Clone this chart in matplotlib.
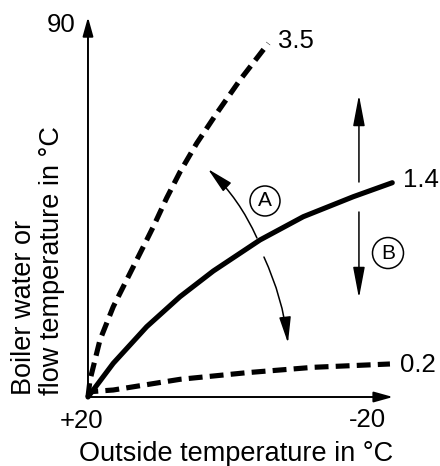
import numpy as np
import matplotlib
matplotlib.use("Agg")
import matplotlib.pyplot as plt
from matplotlib.patches import Ellipse

plt.rcParams["font.family"] = ["Liberation Sans", "DejaVu Sans"]

# Outside temperature (x) and flow temperature (y)
x_35 = [20, 19.71, 18.29, 16.39, 14.0, 11.61, 10.67, 8.76, 6.86, 4.47, 1.61, -1.71, -5.76]
y_35 = [20, 23.18, 30.67, 36.9, 43.15, 49.39, 51.87, 57.25, 62.11, 67.48, 73.1, 79.33, 86.2]

x_14 = [20, 16.39, 11.61, 6.86, 2.10, -4.57, -10.76, -17.90, -23.47]
y_14 = [20, 26.31, 33.16, 38.77, 43.58, 49.39, 53.75, 57.49, 60.11]

x_02 = [20, 19.71, 16.39, 6.86, -2.67, -12.19, -23.14]
y_02 = [20, 20.99, 21.31, 23.31, 24.55, 25.56, 26.18]

curve_labels = ["3.5", "1.4", "0.2"]
x_ticks = [20, -20]
x_tick_labels = ["+20", "-20"]
y_top_label = "90"

fig = plt.figure(figsize=(4.4, 4.66), dpi=100)
ax = fig.add_axes([0, 0, 1, 1])
ax.set_xlim(32.57, -30.29)
ax.set_ylim(7.085, 94.31)
ax.axis("off")

# axes with arrows
axis_arrow = dict(arrowstyle="-|>,head_length=1.15,head_width=0.32",
                  color="black", lw=1.4, shrinkA=0, shrinkB=0, mutation_scale=10)
ax.annotate("", xy=(20, 91.1), xytext=(20, 20), arrowprops=axis_arrow)
ax.annotate("", xy=(-23.57, 20), xytext=(20, 20), arrowprops=axis_arrow)

# heating curves
curve_kw = dict(color="black", lw=3.7, solid_joinstyle="round", dash_joinstyle="round")
ax.plot(x_35, y_35, dashes=(2.7, 1.4), **curve_kw)
ax.plot(x_14, y_14, solid_capstyle="round", **curve_kw)
ax.plot(x_02, y_02, dashes=(2.7, 1.4), **curve_kw)

fs_num = 18.5
fs_lab = 19.5
ax.text(-7.14, 85.27, curve_labels[0], fontsize=fs_num, ha="left", va="baseline")
ax.text(-25.04, 59.3, curve_labels[1], fontsize=fs_num, ha="left", va="baseline")
ax.text(-24.57, 24.74, curve_labels[2], fontsize=fs_num, ha="left", va="baseline")

ax.text(23.86, 88.3, y_top_label, fontsize=fs_num, ha="center", va="baseline")
ax.text(20.93, 14.2, x_tick_labels[0], fontsize=fs_num, ha="center", va="baseline")
ax.text(x_ticks[1] + 0.07, 14.44, x_tick_labels[1], fontsize=fs_num, ha="center", va="baseline")

ax.text(-1.21, 8.02, "Outside temperature in °C", fontsize=fs_lab, ha="center", va="baseline")
ax.text(27.21, 20.37, "Boiler water or\nflow temperature in °C", fontsize=fs_lab,
        rotation=90, ha="center", va="bottom", multialignment="left",
        linespacing=1.1)

# arc arrow A
thin = dict(color="black", lw=1.1, shrinkA=0, shrinkB=0, mutation_scale=10)
ax.annotate("", xy=(2.86, 62.67), xytext=(-4.14, 49.76),
            arrowprops=dict(arrowstyle="-|>,head_length=1.6,head_width=0.36",
                            connectionstyle="arc3,rad=0.1", **thin))
ax.annotate("", xy=(-8.57, 30.11), xytext=(-5.14, 46.2),
            arrowprops=dict(arrowstyle="-|>,head_length=1.6,head_width=0.36",
                            connectionstyle="arc3,rad=-0.08", **thin))
ax.add_patch(Ellipse((-5.29, 56.69), 30 / 7, 30 / 5.343, fill=False, lw=1.1, color="black"))
ax.text(-5.29, 56.69, "A", fontsize=15, ha="center", va="center")

# vertical arrow B
ax.annotate("", xy=(-18.71, 76.53), xytext=(-18.71, 60.24),
            arrowprops=dict(arrowstyle="-|>,head_length=1.9,head_width=0.36", **thin))
ax.annotate("", xy=(-18.71, 38.53), xytext=(-18.71, 54.63),
            arrowprops=dict(arrowstyle="-|>,head_length=1.9,head_width=0.36", **thin))
ax.add_patch(Ellipse((-22.86, 46.95), 31 / 7, 31 / 5.343, fill=False, lw=1.1, color="black"))
ax.text(-22.86, 46.95, "B", fontsize=15, ha="center", va="center")

fig.savefig("out.png", dpi=100)
